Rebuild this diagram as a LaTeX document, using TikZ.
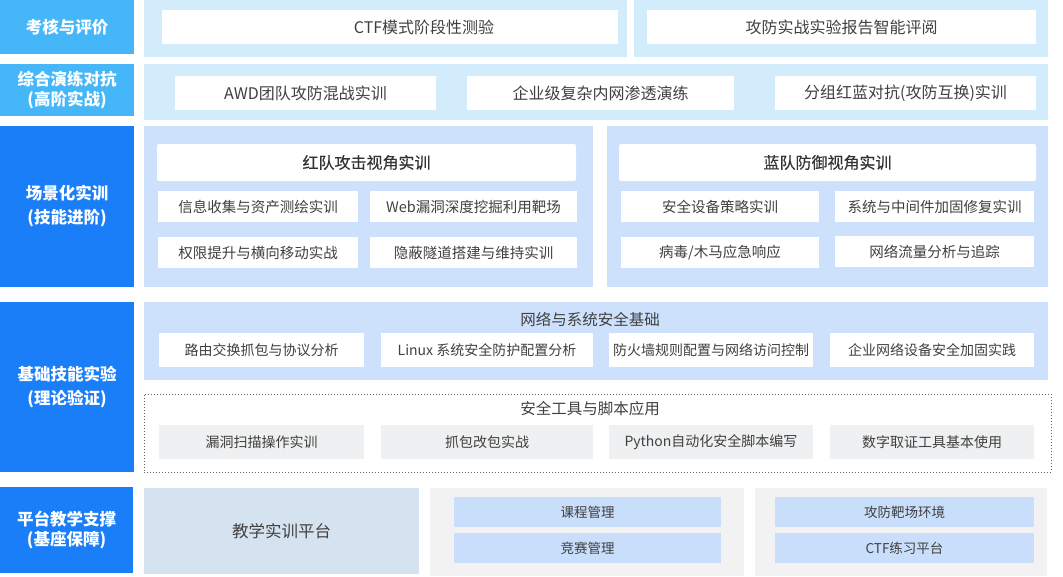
\documentclass[tikz,border=0pt]{standalone}
\usepackage{fontspec}
\setmainfont{Noto Sans CJK SC}
\definecolor{lblA}{HTML}{45B6F8}
\definecolor{lblB}{HTML}{1A7EF8}
\definecolor{pnlCyan}{HTML}{D2ECFC}
\definecolor{pnlBlue}{HTML}{CDE0FC}
\definecolor{pnlPlat}{HTML}{D5E2EF}
\definecolor{pnlGray}{HTML}{F2F2F2}
\definecolor{boxGray}{HTML}{EFF0F1}
\definecolor{boxBlue}{HTML}{C9DEFB}
\definecolor{txt}{HTML}{404040}
\definecolor{dotc}{HTML}{5A6270}
\newcommand\bx[7]{%
  \pgfmathsetmacro\BxW{#5-#3}\pgfmathsetmacro\BxH{#6-#4}%
  \node[#2, minimum width=\BxW pt, minimum height=\BxH pt] (#1) at ({(#3+#5)/2},{(#4+#6)/2}) {#7};}
\tikzset{
  base/.style={inner sep=0pt, outer sep=0pt, draw=none, align=center},
  lbl/.style={base, text=white, font=\bfseries\fontsize{16.5}{21}\selectfont},
  lblA/.style={lbl, fill=lblA},
  lblB/.style={lbl, fill=lblB},
  panel/.style={base},
  wbox/.style={base, fill=white, text=txt, font=\fontsize{16}{20}\selectfont},
  hbox/.style={base, fill=white, text=black!80, rounded corners=2pt, font=\fontsize{16}{20}\selectfont\addfontfeature{FakeBold=0.3}},
  sbox/.style={base, fill=white, text=txt, font=\fontsize{14.5}{18}\selectfont},
  gbox/.style={base, fill=boxGray, text=txt, font=\fontsize{14}{18}\selectfont},
  bbox/.style={base, fill=boxBlue, text=txt, font=\fontsize{13.5}{18}\selectfont},
  ttl/.style={base, text=txt, font=\fontsize{15.5}{20}\selectfont},
}
\begin{document}
\begin{tikzpicture}[x=1pt,y=-1pt]
\useasboundingbox (0,0) rectangle (1063,576);
% left labels
\bx{L1}{lblA}{0}{0}{134}{54}{考核与评价}
\bx{L2}{lblA,font=\bfseries\fontsize{16.5}{20}\selectfont}{0}{64}{134}{116}{综合演练对抗\\(高阶实战)}
\bx{L3}{lblB,font=\bfseries\fontsize{16.5}{24}\selectfont}{0}{126}{134}{287}{场景化实训\\(技能进阶)}
\bx{L4}{lblB,font=\bfseries\fontsize{16.5}{24}\selectfont}{0}{302}{134}{472}{基础技能实验\\(理论验证)}
\bx{L5}{lblB,font=\bfseries\fontsize{16.5}{20}\selectfont}{0}{487}{133}{573}{平台教学支撑\\(基座保障)}
% row 1
\bx{P1a}{panel,fill=pnlCyan}{144}{0}{627}{57}{}
\bx{P1b}{panel,fill=pnlCyan}{634}{0}{1048}{57}{}
\bx{B11}{wbox}{162}{10}{618}{44}{}
\node[ttl, font=\fontsize{16}{20}\selectfont] (T11) at (424,27) {CTF模式阶段性测验};
\bx{B12}{wbox}{647}{10}{1036}{44}{攻防实战实验报告智能评阅}
% row 2
\bx{P2}{panel,fill=pnlCyan}{144}{64}{1048}{120}{}
\bx{B21}{wbox}{175}{76}{436}{110}{AWD团队攻防混战实训}
\bx{B22}{wbox}{467}{76}{734}{110}{企业级复杂内网渗透演练}
\bx{B23}{wbox}{775}{76}{1036}{110}{分组红蓝对抗(攻防互换)实训}
% row 3
\bx{P3a}{panel,fill=pnlBlue}{144}{126}{593}{287}{}
\bx{P3b}{panel,fill=pnlBlue}{607}{126}{1048}{287}{}
\bx{H3a}{hbox}{157}{144}{576}{181}{红队攻击视角实训}
\bx{S3a1}{sbox}{158}{191}{358}{222}{信息收集与资产测绘实训}
\bx{S3a2}{sbox}{370}{191}{577}{222}{Web漏洞深度挖掘利用靶场}
\bx{S3a3}{sbox}{158}{237}{358}{268}{权限提升与横向移动实战}
\bx{S3a4}{sbox}{370}{237}{577}{268}{隐蔽隧道搭建与维持实训}
\bx{H3b}{hbox}{619}{144}{1036}{181}{蓝队防御视角实训}
\bx{S3b1}{sbox}{621}{191}{819}{222}{安全设备策略实训}
\bx{S3b2}{sbox}{835}{191}{1034}{222}{系统与中间件加固修复实训}
\bx{S3b3}{sbox}{621}{237}{819}{268}{病毒/木马应急响应}
\bx{S3b4}{sbox}{835}{236}{1034}{267}{网络流量分析与追踪}
% row 4
\bx{P4a}{panel,fill=pnlBlue}{144}{302}{1048}{380}{}
\node[ttl] (T4a) at (590,319) {网络与系统安全基础};
\bx{S4a1}{sbox,font=\fontsize{14}{18}\selectfont}{159}{333}{364}{367}{路由交换抓包与协议分析}
\bx{S4a2}{sbox,font=\fontsize{14}{18}\selectfont}{381}{333}{593}{367}{Linux 系统安全防护配置分析}
\bx{S4a3}{sbox,font=\fontsize{14}{18}\selectfont}{609}{333}{813}{367}{防火墙规则配置与网络访问控制}
\bx{S4a4}{sbox,font=\fontsize{14}{18}\selectfont}{830}{333}{1034}{367}{企业网络设备安全加固实践}
\bx{P4b}{panel,draw=dotc,line width=0.8pt,dash pattern=on 0.8pt off 2.2pt}{144}{394}{1051}{472}{}
\node[ttl] (T4b) at (590,409) {安全工具与脚本应用};
\bx{S4b1}{gbox}{159}{425}{364}{459}{漏洞扫描操作实训}
\bx{S4b2}{gbox}{381}{425}{593}{459}{抓包改包实战}
\bx{S4b3}{gbox}{609}{425}{813}{459}{Python自动化安全脚本编写}
\bx{S4b4}{gbox}{830}{425}{1034}{459}{数字取证工具基本使用}
% row 5
\bx{P5a}{panel,fill=pnlPlat,text=txt,font=\fontsize{16.5}{20}\selectfont}{144}{488}{419}{574}{教学实训平台}
\bx{P5b}{panel,fill=pnlGray}{430}{488}{744}{576}{}
\bx{P5c}{panel,fill=pnlGray}{755}{488}{1047}{576}{}
\bx{B51}{bbox}{454}{497}{721}{527}{课程管理}
\bx{B52}{bbox}{454}{533}{721}{563}{竞赛管理}
\bx{B53}{bbox}{775}{497}{1034}{527}{攻防靶场环境}
\bx{B54}{bbox}{775}{533}{1034}{563}{CTF练习平台}
\end{tikzpicture}
\end{document}
